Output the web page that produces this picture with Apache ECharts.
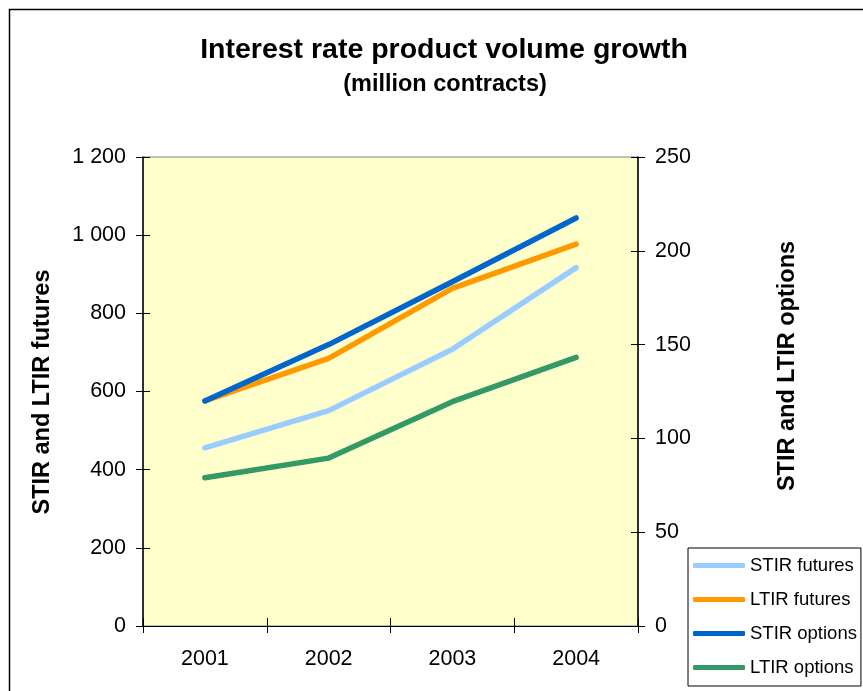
<!DOCTYPE html>
<html>
<head>
<meta charset="utf-8">
<script src="https://cdn.jsdelivr.net/npm/echarts@6/dist/echarts.min.js"></script>
<style>
html,body{margin:0;padding:0;background:#fff;}
#chart{width:863px;height:691px;}
</style>
</head>
<body>
<div id="chart"></div>
<script>
const categories = ['2001', '2002', '2003', '2004'];
const stirFutures = [456, 551, 708, 917];
const ltirFutures = [576, 685, 864, 977];
const stirOptions = [120, 150, 183.5, 217.5];
const ltirOptions = [79, 89.5, 119.6, 143.2];
const seriesNames = ['STIR futures', 'LTIR futures', 'STIR options', 'LTIR options'];
const seriesColors = ['#99CCFF', '#FF9900', '#0066CC', '#339966'];
const leftAxisTitle = 'STIR and LTIR futures';
const rightAxisTitle = 'STIR and LTIR options';
const titleText = 'Interest rate product volume growth';
const subtitleText = '(million contracts)';

const FONT = '"Liberation Sans", Arial, sans-serif';
const chart = echarts.init(document.getElementById('chart'), null, {renderer: 'canvas'});

function fmtThousands(v) {
  return String(v).replace(/\B(?=(\d{3})+(?!\d))/g, ' ');
}

const GRID = {left: 143, right: 225, top: 157, bottom: 65};
const baseAxisLabel = {color: '#000', fontFamily: FONT, fontSize: 21.5};

const option = {
  backgroundColor: '#fff',
  animation: false,
  grid: Object.assign({show: true, backgroundColor: '#FFFFCC', borderColor: '#808080', borderWidth: 1}, GRID),
  legend: {
    orient: 'vertical',
    left: 688, top: 548,
    padding: [7, 4, 8, 5],
    itemWidth: 52, itemHeight: 5, itemGap: 13,
    backgroundColor: '#fff', borderColor: '#000', borderWidth: 1,
    textStyle: {fontFamily: FONT, fontSize: 18.5, color: '#000', lineHeight: 21},
    data: seriesNames.map(function (n) { return {name: n, icon: 'roundRect'}; })
  },
  xAxis: [
    {
      type: 'category', data: categories, boundaryGap: true, position: 'bottom',
      axisLine: {show: true, lineStyle: {color: '#000', width: 1}},
      axisTick: {show: true, inside: false, length: 7, lineStyle: {color: '#000'}},
      axisLabel: Object.assign({margin: 22}, baseAxisLabel),
      splitLine: {show: false}
    },
    {
      type: 'category', data: categories, boundaryGap: true, position: 'bottom',
      axisLine: {show: false},
      axisTick: {show: true, inside: true, length: 8, lineStyle: {color: '#000'}},
      axisLabel: {show: false},
      splitLine: {show: false}
    }
  ],
  yAxis: [
    {
      type: 'value', min: 0, max: 1200, interval: 200, position: 'left',
      axisLine: {show: true, lineStyle: {color: '#000', width: 1.5}},
      axisTick: {show: true, inside: false, length: 7, lineStyle: {color: '#000'}},
      axisLabel: Object.assign({margin: 17, formatter: fmtThousands}, baseAxisLabel),
      splitLine: {show: false}
    },
    {
      type: 'value', min: 0, max: 250, interval: 50, position: 'right',
      axisLine: {show: true, lineStyle: {color: '#000', width: 1.5}},
      axisTick: {show: true, inside: false, length: 7, lineStyle: {color: '#000'}},
      axisLabel: Object.assign({margin: 17}, baseAxisLabel),
      splitLine: {show: false}
    },
    {
      type: 'value', min: 0, max: 1200, interval: 200, position: 'left',
      axisLine: {show: false},
      axisTick: {show: true, inside: true, length: 7, lineStyle: {color: '#000'}},
      axisLabel: {show: false},
      splitLine: {show: false}
    },
    {
      type: 'value', min: 0, max: 250, interval: 50, position: 'right',
      axisLine: {show: false},
      axisTick: {show: true, inside: true, length: 7, lineStyle: {color: '#000'}},
      axisLabel: {show: false},
      splitLine: {show: false}
    }
  ],
  series: [
    {name: seriesNames[0], type: 'line', yAxisIndex: 0, data: stirFutures, symbol: 'none', color: seriesColors[0], lineStyle: {width: 5.5, cap: 'round', join: 'round'}, z: 3},
    {name: seriesNames[1], type: 'line', yAxisIndex: 0, data: ltirFutures, symbol: 'none', color: seriesColors[1], lineStyle: {width: 5.5, cap: 'round', join: 'round'}, z: 3},
    {name: seriesNames[2], type: 'line', yAxisIndex: 1, data: stirOptions, symbol: 'none', color: seriesColors[2], lineStyle: {width: 5.5, cap: 'round', join: 'round'}, z: 4},
    {name: seriesNames[3], type: 'line', yAxisIndex: 1, data: ltirOptions, symbol: 'none', color: seriesColors[3], lineStyle: {width: 5.5, cap: 'round', join: 'round'}, z: 3}
  ],
  graphic: [
    {type: 'rect', shape: {x: 9.5, y: 9.5, width: 900, height: 700}, style: {fill: null, stroke: '#000', lineWidth: 1.5}, z: 100, silent: true},
    {type: 'text', x: 444, y: 50, style: {text: titleText, fontFamily: FONT, fontSize: 28.5, fontWeight: 'bold', fill: '#000', align: 'center', verticalAlign: 'middle'}},
    {type: 'text', x: 445, y: 85, style: {text: subtitleText, fontFamily: FONT, fontSize: 23.5, fontWeight: 'bold', fill: '#000', align: 'center', verticalAlign: 'middle'}},
    {type: 'text', x: 43, y: 392, rotation: Math.PI / 2, style: {text: leftAxisTitle, fontFamily: FONT, fontSize: 23.5, fontWeight: 'bold', fill: '#000', align: 'center', verticalAlign: 'middle'}},
    {type: 'text', x: 788, y: 366, rotation: Math.PI / 2, style: {text: rightAxisTitle, fontFamily: FONT, fontSize: 23.5, fontWeight: 'bold', fill: '#000', align: 'center', verticalAlign: 'middle'}}
  ]
};
chart.setOption(option);
</script>
</body>
</html>
